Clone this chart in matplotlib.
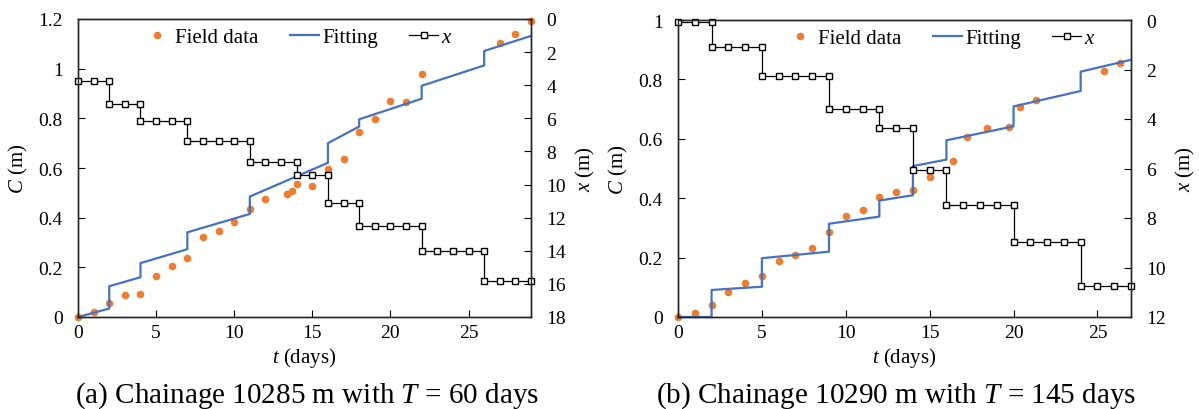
import matplotlib
matplotlib.use("Agg")
import matplotlib.pyplot as plt
from matplotlib.ticker import FuncFormatter

plt.rcParams['font.family'] = ['Liberation Serif', 'DejaVu Serif']
plt.rcParams['mathtext.fontset'] = 'custom'
plt.rcParams['mathtext.rm'] = 'Liberation Serif'
plt.rcParams['mathtext.it'] = 'Liberation Serif:italic'
plt.rcParams['font.size'] = 14

# ---- panel (a): chainage 10285 m ----
field_t_a = [0, 1, 2, 3, 4, 5, 6, 7, 8, 9, 10, 11, 12, 13.4, 13.7, 14, 15, 16, 17,
             18, 19, 20, 21, 22, 27, 28, 29]
field_c_a = [0, 0.019, 0.056, 0.089, 0.093, 0.164, 0.207, 0.239, 0.323, 0.347, 0.383,
             0.434, 0.474, 0.495, 0.508, 0.536, 0.529, 0.597, 0.635, 0.745, 0.797,
             0.871, 0.864, 0.977, 1.105, 1.141, 1.192]
fit_t_a = [0, 2, 2, 4, 4, 7, 7, 11, 11, 16, 16, 18, 18, 22, 22, 26, 26, 29]
fit_c_a = [0, 0.034, 0.124, 0.160, 0.217, 0.273, 0.341, 0.415, 0.485, 0.621,
           0.700, 0.767, 0.796, 0.879, 0.931, 1.013, 1.071, 1.132]
x_t_a = [0, 1, 2, 2, 3, 4, 4, 5, 6, 7, 7, 8, 9, 10, 11, 11, 12, 13, 14, 14, 15, 16,
         16, 17, 18, 18, 19, 20, 21, 22, 22, 23, 24, 25, 26, 26, 27, 28, 29]
x_m_a = [3.72] * 3 + [5.13] * 3 + [6.14] * 4 + [7.35] * 5 + [8.62] * 4 + [9.40] * 3 + \
        [11.09] * 3 + [12.5] * 5 + [14.0] * 5 + [15.8] * 4

# ---- panel (b): chainage 10290 m ----
field_t_b = [0, 1, 2, 3, 4, 5, 6, 7, 8, 9, 10, 11, 12, 13, 14, 15, 16.4, 17.2, 18.4,
             19.7, 20.4, 21.35, 25.4, 26.35]
field_c_b = [0, 0.013, 0.042, 0.085, 0.116, 0.139, 0.190, 0.210, 0.234, 0.286, 0.340,
             0.360, 0.403, 0.422, 0.429, 0.471, 0.526, 0.606, 0.635, 0.640, 0.706,
             0.730, 0.829, 0.855]
fit_t_b = [0, 2, 2, 5, 5, 9, 9, 12, 12, 14, 14, 16, 16, 20, 20, 24, 24, 27]
fit_c_b = [0, 0, 0.091, 0.102, 0.198, 0.220, 0.314, 0.338, 0.392, 0.410, 0.508,
           0.530, 0.595, 0.642, 0.709, 0.761, 0.826, 0.866]
x_t_b = [0, 1, 2, 2, 3, 4, 5, 5, 6, 7, 8, 9, 9, 10, 11, 12, 12, 13, 14, 14, 15, 16,
         16, 17, 18, 19, 20, 20, 21, 22, 23, 24, 24, 25, 26, 27]
x_m_b = [0.07] * 3 + [1.1] * 4 + [2.28] * 5 + [3.6] * 4 + [4.37] * 3 + [6.08] * 3 + \
        [7.46] * 5 + [8.95] * 5 + [10.75] * 4

captions = ["(a) Chainage 10285 m with $T$ = 60 days",
            "(b) Chainage 10290 m with $T$ = 145 days"]

orange = '#ED7D31'
blue = '#4472C4'


def draw_panel(rect, ft, fc, lt, lc, xt, xm, tmax, cmax, xmax, legend_shift):
    ax = fig.add_axes(rect)
    ax.plot(ft, fc, 'o', color=orange, ms=5.5, mew=0, label='Field data', clip_on=False)
    ax.plot(lt, lc, '-', color=blue, lw=1.6, label='Fitting', clip_on=False)
    ax.set_xlim(0, tmax)
    ax.set_ylim(0, cmax)
    ax.set_xticks(range(0, 26, 5))
    ax.set_yticks([i * 0.2 for i in range(int(round(cmax / 0.2)) + 1)])
    ax.yaxis.set_major_formatter(FuncFormatter(lambda v, p: '%g' % round(v, 2)))
    ax.set_xlabel('$t$ (days)', labelpad=3, fontsize=15)
    ax.set_ylabel('$C$ (m)', labelpad=6, fontsize=15)
    ax.tick_params(axis='y', direction='in', length=5, pad=11)
    ax.tick_params(axis='x', direction='in', length=5, pad=5)

    ax2 = ax.twinx()
    ax2.plot(xt, xm, '-', color='black', lw=0.9, marker='s', ms=5,
             mfc='white', mec='black', mew=1.0, label='$x$', clip_on=False)
    ax2.set_ylim(xmax, 0)
    ax2.set_yticks(range(0, xmax + 1, 2))
    ax2.set_ylabel('$x$ (m)', labelpad=6, fontsize=15)
    ax2.tick_params(axis='y', direction='in', length=5, pad=11)
    for a in (ax, ax2):
        for s in a.spines.values():
            s.set_color('#262626')
            s.set_linewidth(1.0)

    h1, l1 = ax.get_legend_handles_labels()
    h2, l2 = ax2.get_legend_handles_labels()
    ax2.legend(h1 + h2, l1 + l2, loc='upper center', ncol=3, frameon=False,
               bbox_to_anchor=(0.5 + legend_shift, 1.02), handlelength=1.4,
               handletextpad=0.15, columnspacing=1.5, borderaxespad=0.3,
               fontsize=15)
    return ax


fig = plt.figure(figsize=(11.99, 4.10), dpi=100)
draw_panel([78 / 1199, 92 / 410, 453 / 1199, 298 / 410],
           field_t_a, field_c_a, fit_t_a, fit_c_a, x_t_a, x_m_a, 29, 1.2, 18, -0.015)
draw_panel([678 / 1199, 92 / 410, 453 / 1199, 297 / 410],
           field_t_b, field_c_b, fit_t_b, fit_c_b, x_t_b, x_m_b, 27, 1.0, 12, 0.08)

fig.text(307 / 1199, 14 / 410, captions[0], ha='center', va='center', fontsize=21)
fig.text(896 / 1199, 14 / 410, captions[1], ha='center', va='center', fontsize=21)

fig.savefig('out.png', dpi=100)
